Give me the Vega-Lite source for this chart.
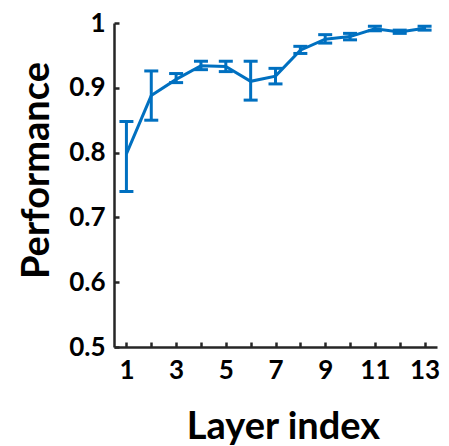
{
  "$schema": "https://vega.github.io/schema/vega-lite/v6.json",
  "width": 323,
  "height": 324,
  "autosize": "none",
  "padding": {"left": 114, "top": 23, "right": 12, "bottom": 99},
  "background": "white",
  "data": {
    "values": [
      {"layer": 1, "perf": 0.798, "lo": 0.740, "hi": 0.848},
      {"layer": 2, "perf": 0.888, "lo": 0.850, "hi": 0.926},
      {"layer": 3, "perf": 0.913, "lo": 0.908, "hi": 0.922},
      {"layer": 4, "perf": 0.934, "lo": 0.928, "hi": 0.941},
      {"layer": 5, "perf": 0.933, "lo": 0.925, "hi": 0.941},
      {"layer": 6, "perf": 0.910, "lo": 0.881, "hi": 0.941},
      {"layer": 7, "perf": 0.918, "lo": 0.906, "hi": 0.930},
      {"layer": 8, "perf": 0.958, "lo": 0.953, "hi": 0.964},
      {"layer": 9, "perf": 0.975, "lo": 0.969, "hi": 0.982},
      {"layer": 10, "perf": 0.979, "lo": 0.974, "hi": 0.984},
      {"layer": 11, "perf": 0.991, "lo": 0.988, "hi": 0.995},
      {"layer": 12, "perf": 0.986, "lo": 0.984, "hi": 0.989},
      {"layer": 13, "perf": 0.992, "lo": 0.989, "hi": 0.995}
    ]
  },
  "encoding": {
    "x": {
      "field": "layer",
      "type": "quantitative",
      "scale": {"domain": [0.5, 13.5], "nice": false, "zero": false},
      "axis": {
        "title": "Layer index",
        "values": [1, 2, 3, 4, 5, 6, 7, 8, 9, 10, 11, 12, 13],
        "labelExpr": "datum.value % 2 == 1 ? datum.label : ''",
        "grid": false,
        "tickSize": -5,
        "labelPadding": 15,
        "titlePadding": 25,
        "titleX": 169
      }
    }
  },
  "layer": [
    {
      "mark": {
        "type": "errorbar",
        "color": "#0070C0",
        "ticks": {"size": 14, "thickness": 3, "color": "#0070C0", "opacity": 1},
        "rule": {"strokeWidth": 3, "color": "#0070C0", "opacity": 1}
      },
      "encoding": {
        "y": {
          "field": "lo",
          "type": "quantitative",
          "scale": {"domain": [0.5, 1], "nice": false, "zero": false},
          "axis": {
            "title": "Performance",
            "values": [0.5, 0.6, 0.7, 0.8, 0.9, 1],
            "format": ".1~f",
            "grid": false,
            "tickSize": -5,
            "labelPadding": 14,
            "titlePadding": 12,
            "titleY": 147
          }
        },
        "y2": {"field": "hi"}
      }
    },
    {
      "mark": {"type": "line", "color": "#0070C0", "strokeWidth": 3},
      "encoding": {
        "y": {"field": "perf", "type": "quantitative"}
      }
    }
  ],
  "config": {
    "view": {"stroke": null},
    "axis": {
      "domainColor": "#262626",
      "domainWidth": 2.5,
      "tickColor": "#262626",
      "tickWidth": 2.5,
      "labelFont": "Lato",
      "labelFontWeight": "bold",
      "labelFontSize": 26,
      "labelColor": "#000000",
      "titleFont": "Lato",
      "titleFontWeight": "bold",
      "titleFontSize": 38,
      "titleColor": "#000000"
    }
  }
}
